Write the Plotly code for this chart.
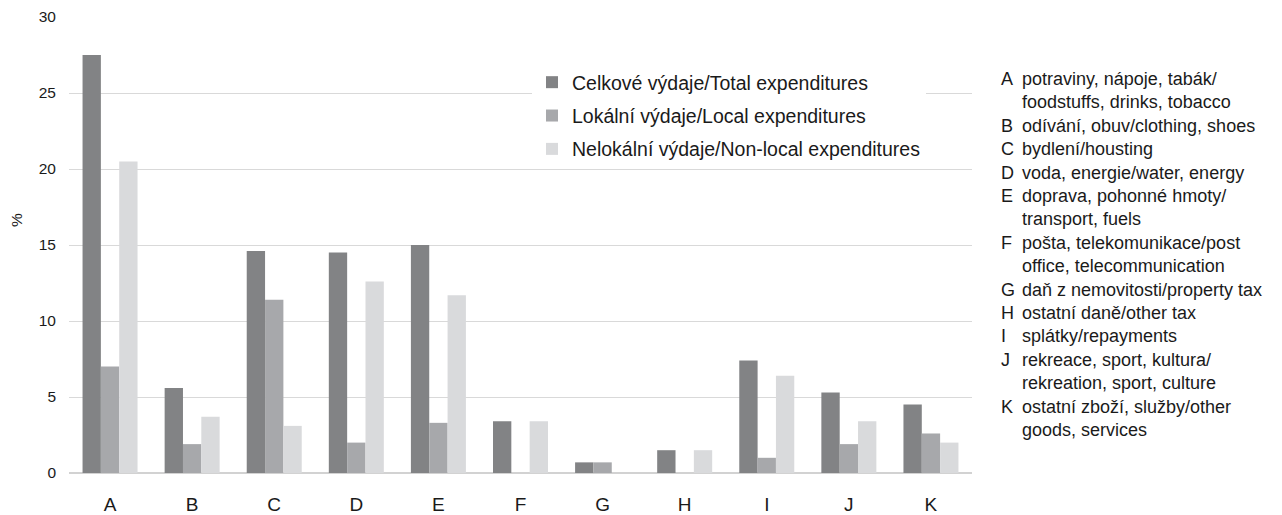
import plotly.graph_objects as go

categories = ["A", "B", "C", "D", "E", "F", "G", "H", "I", "J", "K"]
total = [27.5, 5.6, 14.6, 14.5, 15.0, 3.4, 0.7, 1.5, 7.4, 5.3, 4.5]
local = [7.0, 1.9, 11.4, 2.0, 3.3, 0.0, 0.7, 0.0, 1.0, 1.9, 2.6]
nonlocal_ = [20.5, 3.7, 3.1, 12.6, 11.7, 3.4, 0.0, 1.5, 6.4, 3.4, 2.0]

series_names = [
    "Celkové výdaje/Total expenditures",
    "Lokální výdaje/Local expenditures",
    "Nelokální výdaje/Non-local expenditures",
]
series_colors = ["#828385", "#a7a8ab", "#d9dadc"]

key_letters = ["A", "", "B", "C", "D", "E", "", "F", "", "G", "H", "I", "J", "", "K", ""]
key_texts = [
    "potraviny, nápoje, tabák/",
    "foodstuffs, drinks, tobacco",
    "odívání, obuv/clothing, shoes",
    "bydlení/housting",
    "voda, energie/water, energy",
    "doprava, pohonné hmoty/",
    "transport, fuels",
    "pošta, telekomunikace/post",
    "office, telecommunication",
    "daň z nemovitosti/property tax",
    "ostatní daně/other tax",
    "splátky/repayments",
    "rekreace, sport, kultura/",
    "rekreation, sport, culture",
    "ostatní zboží, služby/other",
    "goods, services",
]

FONT = "Liberation Sans, Arial, sans-serif"
TXT = "#1a1a1a"

# plot area in pixels: x 69..972, y 17..473
L, R, T, B = 69, 310, 17, 42
W, H = 1282, 515
PW, PH = W - L - R, H - T - B

def px_x(x):
    return (x - L) / PW

def px_y(y):
    return 1 - (y - T) / PH

fig = go.Figure()
for name, vals, col in zip(series_names, [total, local, nonlocal_], series_colors):
    fig.add_trace(go.Bar(x=categories, y=vals, name=name, marker_color=col,
                         marker_line_width=0, legendgroup=name))

fig.update_layout(
    width=W, height=H,
    margin=dict(l=L, r=R, t=T, b=B, autoexpand=False),
    paper_bgcolor="white", plot_bgcolor="white",
    barmode="group", bargap=0.33, bargroupgap=0,
    font=dict(family=FONT, color=TXT),
    showlegend=True,
    legend=dict(x=px_x(532), y=px_y(63), xanchor="left", yanchor="top",
                bgcolor="white", borderwidth=0,
                font=dict(size=19.5, family=FONT, color=TXT),
                tracegroupgap=5, itemwidth=30),
    xaxis=dict(range=[-0.5, 10.5], showline=False, ticks="", automargin=False,
               ticklabelstandoff=18,
               tickfont=dict(size=19, family=FONT, color=TXT)),
    yaxis=dict(range=[0, 30], dtick=5, showgrid=True, gridcolor="#d9d9d9",
               gridwidth=1, zeroline=True, zerolinecolor="#d2d2d2", automargin=False,
               zerolinewidth=2, ticks="", ticklabelstandoff=12,
               tickfont=dict(size=15.5, family=FONT, color=TXT)),
)

fig.add_annotation(xref="paper", yref="paper", x=px_x(16), y=px_y(220),
                   xanchor="center", yanchor="middle", textangle=-90,
                   showarrow=False, text="%",
                   font=dict(size=15.5, family=FONT, color=TXT))

fig.add_annotation(xref="paper", yref="paper", x=px_x(999), y=px_y(67),
                   xanchor="left", yanchor="top", align="left", showarrow=False,
                   text="<br>".join(key_letters),
                   font=dict(size=18, family=FONT, color=TXT))
fig.add_annotation(xref="paper", yref="paper", x=px_x(1020), y=px_y(67),
                   xanchor="left", yanchor="top", align="left", showarrow=False,
                   text="<br>".join(key_texts),
                   font=dict(size=18, family=FONT, color=TXT))

fig.write_html("out.html",
               config={"displayModeBar": False},
               post_script="document.body.style.margin='0';document.body.style.overflow='hidden';")
